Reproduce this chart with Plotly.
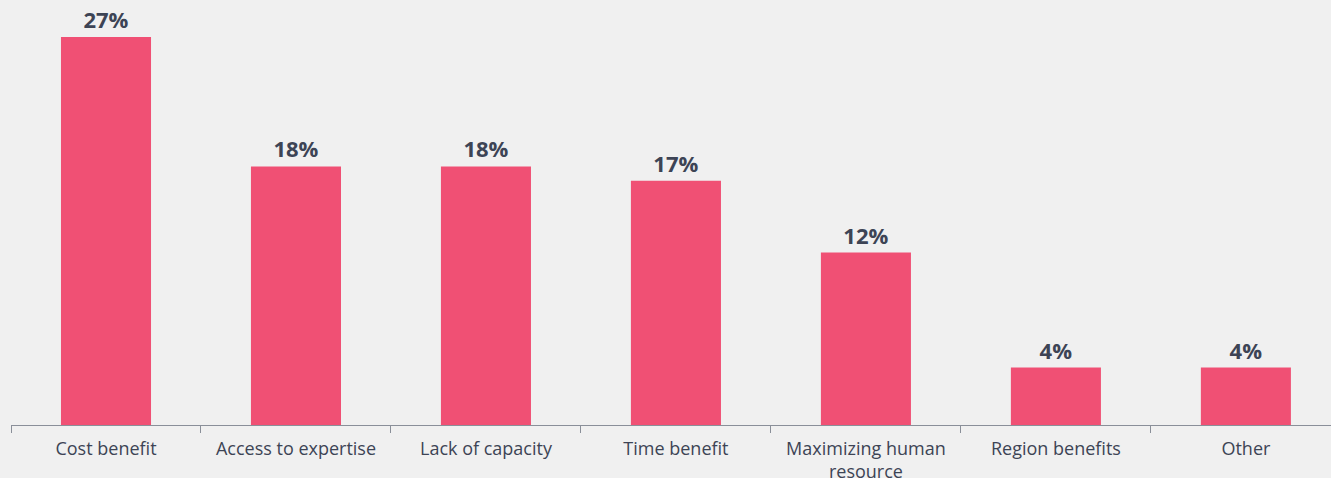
import plotly.graph_objects as go

categories = ["Cost benefit", "Access to expertise", "Lack of capacity", "Time benefit",
              "Maximizing human<br>resource", "Region benefits", "Other"]
values = [27, 18, 18, 17, 12, 4, 4]
value_labels = [f"{v}%" for v in values]

BG = "#f0f0f0"
BAR = "#f05074"
TEXT = "#3d4455"

fig = go.Figure(go.Bar(
    x=categories,
    y=values,
    text=value_labels,
    textposition="outside",
    textfont=dict(family="Open Sans", size=22, color=TEXT, weight="bold"),
    marker=dict(color=BAR, line=dict(width=0)),
    cliponaxis=False,
    hoverinfo="skip",
))

fig.update_layout(
    width=1331, height=478,
    margin=dict(l=11, r=0, t=0, b=53),
    paper_bgcolor=BG, plot_bgcolor=BG,
    bargap=0.526,
    showlegend=False,
    font=dict(family="Open Sans", color=TEXT),
)
fig.update_xaxes(
    type="category",
    range=[-0.5, 6.448],
    tickson="boundaries",
    ticks="outside", ticklen=7, tickcolor="#8a8f99", tickwidth=1,
    showline=True, linecolor="#8a8f99", linewidth=1,
    tickfont=dict(family="Open Sans", size=18, color=TEXT),
    ticklabelstandoff=7,
    automargin=False,
    showgrid=False, zeroline=False,
)
fig.update_yaxes(range=[0, 29.58], visible=False, showgrid=False)

fig.write_html("out.html")
